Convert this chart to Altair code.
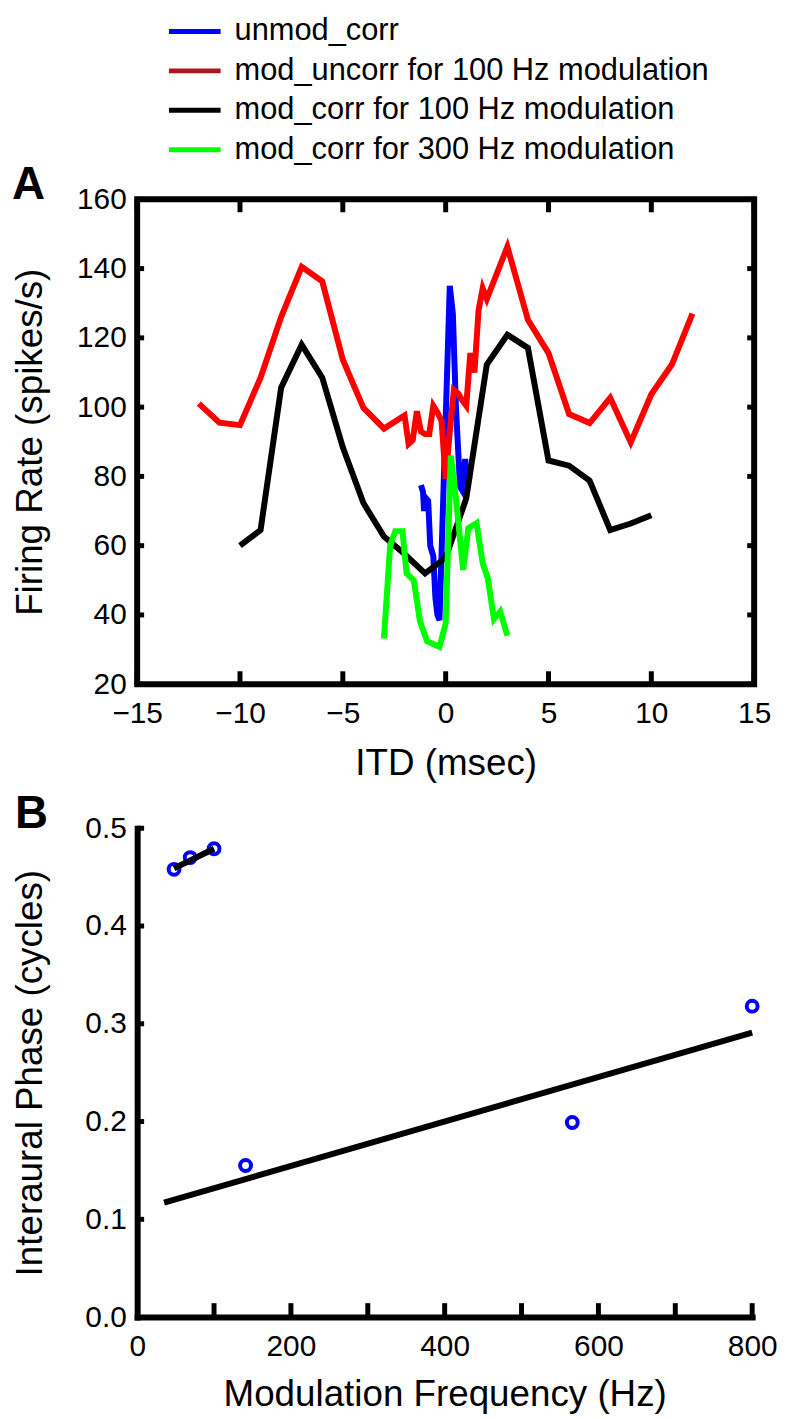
import altair as alt
import pandas as pd

FONT = "Liberation Sans"

# ---------------- Panel A data (ITD tuning curves) ----------------
legend_labels = [
    "unmod_corr",
    "mod_uncorr for 100 Hz modulation",
    "mod_corr for 100 Hz modulation",
    "mod_corr for 300 Hz modulation",
]
legend_colors = ["#0000ff", "#b0141c", "#000000", "#00ff00"]
line_colors = ["#0000ff", "#ff0000", "#000000", "#00ff00"]

unmod_corr_x = [-1.2, -1.1, -1.05, -1.0, -0.85, -0.75, -0.6, -0.5, -0.4, -0.3,
                0.2, 0.35, 0.5, 0.7, 0.8, 0.95, 1.05, 1.2]
unmod_corr_y = [77.5, 75.5, 70.0, 74.0, 73.0, 60.0, 57.0, 45.0, 40.0, 38.5,
                135.0, 127.0, 100.0, 77.0, 76.0, 85.0, 79.0, 80.0]

mod_uncorr_x = [-12, -11, -10, -9, -8, -7, -6, -5, -4, -3, -2,
                -1.8, -1.6, -1.4, -1.2, -1.0, -0.8, -0.6, -0.4, -0.2, 0,
                0.2, 0.4, 0.6, 0.8, 1.0, 1.2, 1.4, 1.6, 1.8, 2,
                3, 4, 5, 6, 7, 8, 9, 10, 11, 12]
mod_uncorr_y = [101.0, 95.5, 94.8, 108.5, 126.0, 140.5, 136.3, 113.7, 99.8, 93.8, 97.6,
                89.4, 90.5, 98.8, 93.0, 92.2, 92.2, 100.4, 98.5, 96.0, 79.3,
                93.0, 105.0, 104.0, 102.0, 100.4, 115.6, 110.0, 128.0, 134.3, 131.2,
                146.3, 125.2, 115.6, 98.0, 95.4, 102.7, 89.8, 103.7, 112.3, 127.0]

mod_corr100_x = [-10, -9, -8, -7, -6, -5, -4, -3, -2, -1, 0,
                 1, 2, 3, 4, 5, 6, 7, 8, 9, 10]
mod_corr100_y = [60.0, 64.5, 105.6, 118.0, 108.5, 88.4, 72.3, 62.6, 57.6, 52.0, 56.5,
                 73.6, 112.3, 120.9, 117.1, 84.6, 83.1, 78.8, 64.5, 66.4, 68.8]

mod_corr300_x = [-3.0, -2.7, -2.45, -2.1, -1.9, -1.55, -1.25, -0.9, -0.3, 0.0,
                 0.25, 0.5, 0.85, 1.1, 1.5, 1.8, 2.05, 2.35, 2.65, 3.0]
mod_corr300_y = [33.2, 60.0, 64.2, 64.2, 52.0, 50.0, 38.2, 32.4, 30.8, 37.5,
                 86.0, 73.6, 53.0, 65.0, 66.5, 55.0, 50.5, 38.8, 41.0, 34.0]

itd_ticks = [-15, -10, -5, 0, 5, 10, 15]
rate_ticks = [20, 40, 60, 80, 100, 120, 140, 160]

# ---------------- Panel B data (phase vs modulation frequency) ----------------
mod_freq = [48, 69, 100, 141, 566, 800]
phase = [0.458, 0.470, 0.479, 0.155, 0.199, 0.318]
fit_short_freq = [48, 100]
fit_short_phase = [0.459, 0.479]
fit_long_freq = [35, 800]
fit_long_phase = [0.117, 0.291]

freq_labels = [0, 200, 400, 600, 800]
freq_ticks = [100, 200, 300, 400, 500, 600, 700, 800]
phase_ticks = [0, 0.1, 0.2, 0.3, 0.4, 0.5]
phase_minor = [0.1, 0.2, 0.3, 0.4, 0.5]

panel_letters = ["A", "B"]

# ---------------- layout constants ----------------
A_W, A_H = 621, 488
B_W, B_H = 619, 492
YTICK_LEN, XTICK_LEN = 7, 13
LINE_W = 6

ax_common = dict(
    grid=False, ticks=False, tickSize=0,
    labelFont=FONT, labelFontSize=30, labelColor="black",
    labelFlush=False, labelOverlap=False,
    titleFont=FONT, titleFontSize=37, titleFontWeight="normal", titleColor="black",
)

xA = alt.X("itd:Q", scale=alt.Scale(domain=[-15, 15], nice=False, zero=False),
           axis=alt.Axis(values=itd_ticks, title="ITD (msec)", domain=False,
                         labelPadding=39, labelBaseline="alphabetic",
                         titleY=91, titleBaseline="alphabetic", **ax_common))
yA = alt.Y("rate:Q", scale=alt.Scale(domain=[20, 160], nice=False, zero=False),
           axis=alt.Axis(values=rate_ticks, title="Firing Rate (spikes/s)", domain=False,
                         labelPadding=11, titleX=-96, titleBaseline="alphabetic",
                         **ax_common))

series = [
    (unmod_corr_x, unmod_corr_y),
    (mod_uncorr_x, mod_uncorr_y),
    (mod_corr100_x, mod_corr100_y),
    (mod_corr300_x, mod_corr300_y),
]

layersA = []
for (xs, ys), col in zip(series, line_colors):
    df = pd.DataFrame({"itd": xs, "rate": ys})
    layersA.append(alt.Chart(df).mark_line(color=col, strokeWidth=LINE_W).encode(x=xA, y=yA))

ytick_df = pd.DataFrame({"rate": rate_ticks})
xtick_df = pd.DataFrame({"itd": itd_ticks})
tick_style = dict(color="black", strokeWidth=5)
layersA += [
    alt.Chart(ytick_df).mark_rule(**tick_style).encode(y=yA, x=alt.value(0), x2=alt.value(YTICK_LEN)),
    alt.Chart(ytick_df).mark_rule(**tick_style).encode(y=yA, x=alt.value(A_W), x2=alt.value(A_W - YTICK_LEN)),
    alt.Chart(xtick_df).mark_rule(**tick_style).encode(x=xA, y=alt.value(A_H), y2=alt.value(A_H - XTICK_LEN)),
    alt.Chart(xtick_df).mark_rule(**tick_style).encode(x=xA, y=alt.value(0), y2=alt.value(XTICK_LEN)),
]

# legend (custom, above panel A)
leg_df = pd.DataFrame({"label": legend_labels, "row": list(range(len(legend_labels)))})
for i, col in enumerate(legend_colors):
    yi = -169.0 + 39.7 * i
    base = alt.Chart(leg_df).transform_filter(alt.datum.row == i)
    layersA.append(base.mark_rule(color=col, strokeWidth=5).encode(
        x=alt.value(32), x2=alt.value(84), y=alt.value(yi)))
    layersA.append(base.mark_text(align="left", baseline="middle", font=FONT, fontSize=31,
                                  color="black").encode(text="label:N", x=alt.value(98), y=alt.value(yi)))

panel_df = pd.DataFrame({"panel": panel_letters})
letter_style = dict(align="left", baseline="alphabetic", font=FONT, fontSize=46,
                    fontWeight="bold", color="black")
layersA.append(alt.Chart(panel_df).transform_filter(alt.datum.panel == "A")
               .mark_text(**letter_style).encode(text="panel:N", x=alt.value(-126), y=alt.value(0)))

chartA = alt.layer(*layersA).properties(
    width=A_W, height=A_H,
    view=alt.ViewBackground(stroke="black", strokeWidth=6, fill="white"),
)

# ---------------- Panel B ----------------
xB = alt.X("freq:Q", scale=alt.Scale(domain=[0, 800], nice=False, zero=False),
           axis=alt.Axis(values=freq_labels, title="Modulation Frequency (Hz)",
                         domain=True, domainWidth=6, domainColor="black", domainCap="square",
                         labelPadding=39, labelBaseline="alphabetic",
                         titleY=89, titleBaseline="alphabetic", **ax_common))
yB = alt.Y("phase:Q", scale=alt.Scale(domain=[0, 0.5], nice=False, zero=False),
           axis=alt.Axis(values=phase_ticks, title="Interaural Phase (cycles)",
                         domain=True, domainWidth=6, domainColor="black", domainCap="square",
                         labelPadding=11, titleX=-96, titleBaseline="alphabetic",
                         **ax_common))

pts_df = pd.DataFrame({"freq": mod_freq, "phase": phase})
fit_df = pd.DataFrame({
    "freq": fit_short_freq + fit_long_freq,
    "phase": fit_short_phase + fit_long_phase,
    "seg": ["short"] * len(fit_short_freq) + ["long"] * len(fit_long_freq),
})
bxt_df = pd.DataFrame({"freq": freq_ticks})
byt_df = pd.DataFrame({"phase": phase_minor})

layersB = [
    alt.Chart(pts_df).mark_point(shape="circle", filled=False, color="#0000ff",
                                 strokeWidth=4, size=120, opacity=1).encode(x=xB, y=yB),
    alt.Chart(fit_df).mark_line(color="black", strokeWidth=LINE_W).encode(x=xB, y=yB, detail="seg:N"),
    alt.Chart(bxt_df).mark_rule(**tick_style).encode(x=xB, y=alt.value(B_H), y2=alt.value(B_H - 14)),
    alt.Chart(byt_df).mark_rule(**tick_style).encode(y=yB, x=alt.value(0), x2=alt.value(YTICK_LEN)),
    alt.Chart(panel_df).transform_filter(alt.datum.panel == "B")
    .mark_text(**letter_style).encode(text="panel:N", x=alt.value(-123), y=alt.value(0)),
]

chartB = alt.layer(*layersB).properties(
    width=B_W, height=B_H,
    view=alt.ViewBackground(stroke="transparent", fill="white"),
)

chart = alt.vconcat(chartA, chartB, spacing=6).properties(
    padding=0, background="white"
).configure(font=FONT)

chart.save("out.html", embed_options={"renderer": "svg", "actions": False})
